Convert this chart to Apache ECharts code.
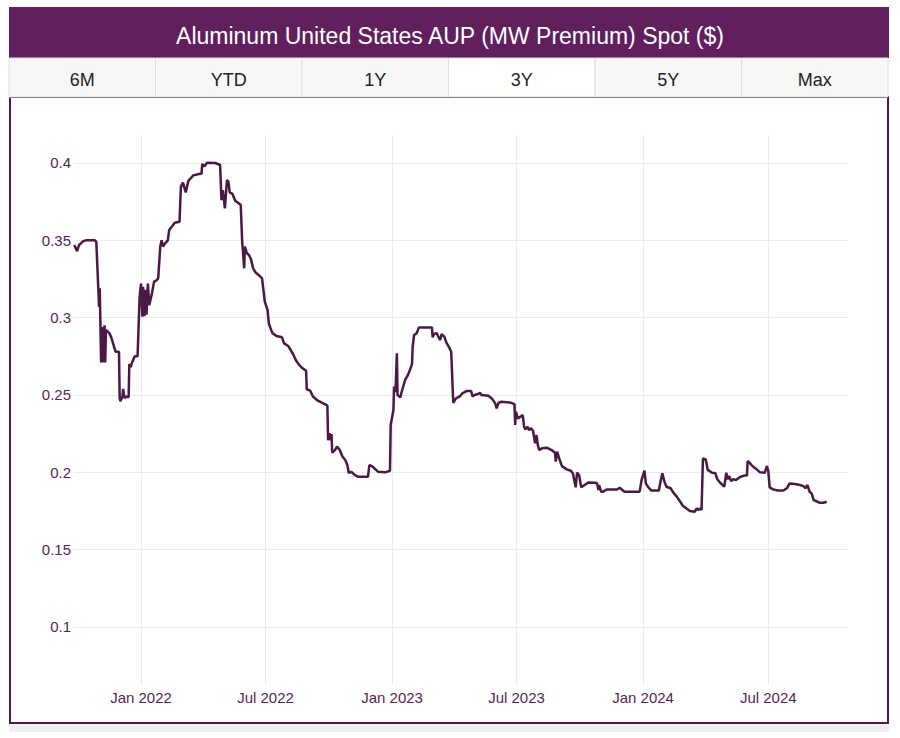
<!DOCTYPE html>
<html>
<head>
<meta charset="utf-8">
<script src="https://cdn.jsdelivr.net/npm/echarts@6/dist/echarts.min.js"></script>
<style>
html,body{margin:0;padding:0;background:#ffffff;}
#chart{width:900px;height:738px;}
</style>
</head>
<body>
<div id="chart"></div>
<script>
const chartTitle = 'Aluminum United States AUP (MW Premium) Spot ($)';
const tabLabels = ['6M', 'YTD', '1Y', '3Y', '5Y', 'Max'];
const selectedTab = 3;
const xTickDates = ['2022-01-01', '2022-07-01', '2023-01-01', '2023-07-01', '2024-01-01', '2024-07-01'];
const yTickValues = [0.1, 0.15, 0.2, 0.25, 0.3, 0.35, 0.4];

const dates = [
'2021-09-26','2021-09-30','2021-10-03','2021-10-09','2021-10-13','2021-10-26','2021-10-28','2021-10-31','2021-11-01','2021-11-02',
'2021-11-04','2021-11-06','2021-11-07','2021-11-09','2021-11-10','2021-11-11','2021-11-16','2021-11-19','2021-11-23','2021-11-25',
'2021-11-30','2021-12-01','2021-12-02','2021-12-05','2021-12-06','2021-12-08','2021-12-11','2021-12-14','2021-12-15','2021-12-17',
'2021-12-19','2021-12-23','2021-12-27','2021-12-30','2022-01-01','2022-01-03','2022-01-04','2022-01-06','2022-01-08','2022-01-09',
'2022-01-11','2022-01-13','2022-01-17','2022-01-20','2022-01-23','2022-01-26','2022-01-29','2022-01-31','2022-02-02','2022-02-05',
'2022-02-09','2022-02-11','2022-02-15','2022-02-19','2022-02-26','2022-02-28','2022-03-03','2022-03-07','2022-03-11','2022-03-14',
'2022-03-18','2022-03-28','2022-03-30','2022-03-31','2022-04-03','2022-04-07','2022-04-19','2022-04-26','2022-04-28','2022-04-30',
'2022-05-03','2022-05-06','2022-05-08','2022-05-10','2022-05-14','2022-05-18','2022-05-22','2022-05-26','2022-05-28','2022-05-31',
'2022-06-01','2022-06-04','2022-06-07','2022-06-10','2022-06-13','2022-06-17','2022-06-21','2022-06-26','2022-06-30','2022-07-04',
'2022-07-06','2022-07-11','2022-07-17','2022-07-25','2022-07-28','2022-08-03','2022-08-10','2022-08-14','2022-08-19','2022-08-23',
'2022-08-29','2022-08-30','2022-09-04','2022-09-08','2022-09-15','2022-09-23','2022-09-28','2022-09-29','2022-09-30','2022-10-02',
'2022-10-04','2022-10-05','2022-10-06','2022-10-10','2022-10-13','2022-10-17','2022-10-21','2022-10-25','2022-10-28','2022-10-30',
'2022-11-03','2022-11-08','2022-11-13','2022-11-27','2022-11-29','2022-12-03','2022-12-07','2022-12-12','2022-12-22','2022-12-29',
'2022-12-30','2023-01-03','2023-01-04','2023-01-06','2023-01-08','2023-01-09','2023-01-13','2023-01-15','2023-01-20','2023-01-23',
'2023-01-26','2023-01-30','2023-01-31','2023-02-02','2023-02-06','2023-02-09','2023-02-28','2023-03-01','2023-03-03','2023-03-07',
'2023-03-09','2023-03-12','2023-03-14','2023-03-18','2023-03-21','2023-03-25','2023-03-28','2023-03-31','2023-04-04','2023-04-10',
'2023-04-13','2023-04-20','2023-04-26','2023-04-28','2023-05-01','2023-05-06','2023-05-09','2023-05-11','2023-05-21','2023-05-26',
'2023-05-31','2023-06-02','2023-06-05','2023-06-09','2023-06-21','2023-06-28','2023-06-29','2023-06-30','2023-07-03','2023-07-07',
'2023-07-10','2023-07-12','2023-07-14','2023-07-17','2023-07-19','2023-07-22','2023-07-25','2023-07-28','2023-07-30','2023-08-01',
'2023-08-03','2023-08-07','2023-08-14','2023-08-21','2023-08-26','2023-08-27','2023-08-29','2023-09-01','2023-09-05','2023-09-12',
'2023-09-18','2023-09-21','2023-09-25','2023-09-27','2023-09-30','2023-10-03','2023-10-08','2023-10-14','2023-10-23','2023-10-26',
'2023-10-28','2023-10-29','2023-11-01','2023-11-04','2023-11-09','2023-11-24','2023-11-28','2023-12-01','2023-12-05','2023-12-27',
'2023-12-30','2024-01-03','2024-01-05','2024-01-08','2024-01-13','2024-01-24','2024-01-26','2024-01-29','2024-02-01','2024-02-04',
'2024-02-10','2024-02-14','2024-02-19','2024-02-24','2024-02-28','2024-03-04','2024-03-09','2024-03-16','2024-03-19','2024-03-21',
'2024-03-24','2024-03-26','2024-03-28','2024-04-01','2024-04-04','2024-04-06','2024-04-10','2024-04-15','2024-04-18','2024-04-22',
'2024-04-28','2024-05-01','2024-05-03','2024-05-05','2024-05-08','2024-05-11','2024-05-15','2024-05-21','2024-05-28','2024-05-31',
'2024-06-01','2024-06-03','2024-06-07','2024-06-12','2024-06-19','2024-06-26','2024-06-29','2024-07-01','2024-07-03','2024-07-08',
'2024-07-15','2024-07-23','2024-07-28','2024-08-01','2024-08-09','2024-08-16','2024-08-21','2024-08-24','2024-08-27','2024-08-30',
'2024-09-02','2024-09-05','2024-09-09','2024-09-14','2024-09-19','2024-09-24'
];

const prices = [
0.347,0.343,0.347,0.3495,0.350,0.350,0.349,0.318,0.307,0.319,
0.271,0.294,0.271,0.295,0.271,0.292,0.290,0.287,0.281,0.278,
0.278,0.248,0.246,0.249,0.254,0.248,0.249,0.2485,0.270,0.268,
0.271,0.275,0.275,0.3135,0.322,0.3006,0.320,0.301,0.318,0.302,
0.322,0.308,0.316,0.3233,0.324,0.3254,0.346,0.350,0.346,0.348,
0.350,0.3567,0.359,0.3614,0.362,0.3847,0.3873,0.381,0.3886,0.390,
0.392,0.393,0.393,0.3994,0.3977,0.4002,0.400,0.3987,0.376,0.3825,
0.3707,0.389,0.388,0.381,0.380,0.3756,0.3743,0.3728,0.350,0.3319,
0.346,0.3416,0.3405,0.3377,0.3319,0.329,0.3276,0.3254,0.3103,0.305,
0.2959,0.290,0.2881,0.2873,0.2834,0.2817,0.2765,0.2726,0.2694,0.2676,
0.2657,0.2537,0.2528,0.249,0.2463,0.2446,0.2435,0.243,0.2208,0.2252,
0.2208,0.2248,0.2127,0.2144,0.2166,0.2144,0.2101,0.208,0.2047,0.1997,
0.2003,0.1982,0.1971,0.1971,0.2047,0.204,0.2023,0.2003,0.200,0.201,
0.2306,0.2403,0.2554,0.252,0.277,0.250,0.2485,0.252,0.2597,0.262,
0.265,0.270,0.2812,0.2888,0.290,0.2937,0.2937,0.2873,0.2894,0.290,
0.288,0.2855,0.2894,0.2877,0.2838,0.2808,0.278,0.245,0.2478,0.2493,
0.251,0.2526,0.2526,0.249,0.250,0.2506,0.2514,0.250,0.2495,0.2478,
0.2446,0.2414,0.245,0.2456,0.2452,0.2441,0.2306,0.2392,0.2349,0.236,
0.237,0.2295,0.2278,0.2295,0.2274,0.2285,0.2269,0.2187,0.2241,0.2176,
0.2144,0.2155,0.2159,0.2144,0.2127,0.2069,0.2134,0.209,0.204,0.2019,
0.201,0.1993,0.1903,0.1998,0.1983,0.1903,0.1918,0.1935,0.1933,0.1929,
0.1886,0.1918,0.1875,0.1875,0.1889,0.1889,0.190,0.1889,0.1875,0.1875,
0.1955,0.2011,0.1929,0.1907,0.1882,0.1882,0.1933,0.1994,0.194,0.1907,
0.1897,0.1869,0.1843,0.181,0.1782,0.1767,0.175,0.1745,0.1767,0.1756,
0.1767,0.1756,0.209,0.2084,0.2015,0.2011,0.1998,0.1994,0.1955,0.1933,
0.1907,0.1997,0.1955,0.1976,0.1943,0.1955,0.1951,0.197,0.198,0.198,
0.2073,0.2066,0.2045,0.2027,0.200,0.1998,0.2041,0.201,0.1903,0.189,
0.1882,0.1882,0.1897,0.1928,0.1924,0.1918,0.1911,0.1897,0.1918,0.1875,
0.1864,0.182,0.1813,0.1803,0.1803,0.181
];

const monthNames = ['Jan','Feb','Mar','Apr','May','Jun','Jul','Aug','Sep','Oct','Nov','Dec'];
const toTs = s => Date.parse(s + 'T00:00:00Z');
const seriesData = dates.map((d, i) => [toTs(d), prices[i]]);
const xTickValues = xTickDates.map(toTs);

const FONT = '"Liberation Sans", Arial, Helvetica, sans-serif';
const PURPLE = '#611f5e';
const AXIS_TEXT = '#5b1d57';

const tabW = 879 / tabLabels.length;
const tabGraphics = [];
tabLabels.forEach((t, i) => {
  tabGraphics.push({
    type: 'rect',
    shape: { x: 9 + i * tabW, y: 58, width: tabW, height: 39 },
    style: { fill: i === selectedTab ? '#ffffff' : '#f7f7f7', stroke: '#dedede', lineWidth: 1 },
    z: 1
  });
  tabGraphics.push({
    type: 'text',
    x: 9 + i * tabW + tabW / 2,
    y: 80,
    style: { text: t, fill: '#222222', font: '18px ' + FONT, textAlign: 'center', textVerticalAlign: 'middle' },
    z: 2
  });
});

const chart = echarts.init(document.getElementById('chart'), null, { renderer: 'svg' });
chart.setOption({
  animation: false,
  backgroundColor: '#ffffff',
  title: {
    text: chartTitle,
    left: 'center',
    top: 19,
    textStyle: { color: '#ffffff', fontSize: 23, fontWeight: 'normal', fontFamily: FONT }
  },
  graphic: [
    { type: 'rect', shape: { x: 9, y: 724, width: 880, height: 8 }, style: { fill: '#efefef' }, z: -20 },
    { type: 'rect', shape: { x: 9, y: 7, width: 880, height: 51 }, style: { fill: PURPLE }, z: -10 },
    { type: 'rect', shape: { x: 10, y: 97, width: 878, height: 626 }, style: { fill: '#ffffff', stroke: '#4f1a4b', lineWidth: 2 }, z: -10 },
    ...tabGraphics
  ],
  grid: { left: 74, right: 52, top: 135, bottom: 53, containLabel: false },
  xAxis: {
    type: 'value',
    min: Date.UTC(2021, 8, 25, 14),
    max: Date.UTC(2024, 9, 24, 22),
    axisLine: { show: false },
    axisTick: { show: false, customValues: xTickValues },
    splitLine: { show: true, lineStyle: { color: '#ebebeb', width: 1 } },
    axisLabel: {
      customValues: xTickValues,
      color: AXIS_TEXT,
      fontSize: 15,
      fontFamily: FONT,
      margin: 5,
      formatter: function (v) {
        const d = new Date(v);
        return monthNames[d.getUTCMonth()] + ' ' + d.getUTCFullYear();
      }
    }
  },
  yAxis: {
    type: 'value',
    min: 0.0625,
    max: 0.4181,
    axisLine: { show: false },
    axisTick: { show: false, customValues: yTickValues },
    splitLine: { show: true, lineStyle: { color: '#ebebeb', width: 1 } },
    axisLabel: {
      customValues: yTickValues,
      color: AXIS_TEXT,
      fontSize: 15,
      fontFamily: FONT,
      margin: 3,
      formatter: function (v) { return String(Math.round(v * 100) / 100); }
    }
  },
  series: [{
    type: 'line',
    data: seriesData,
    showSymbol: false,
    symbol: 'none',
    lineStyle: { color: '#4c1846', width: 2.5 },
    z: 5
  }]
});
</script>
</body>
</html>
